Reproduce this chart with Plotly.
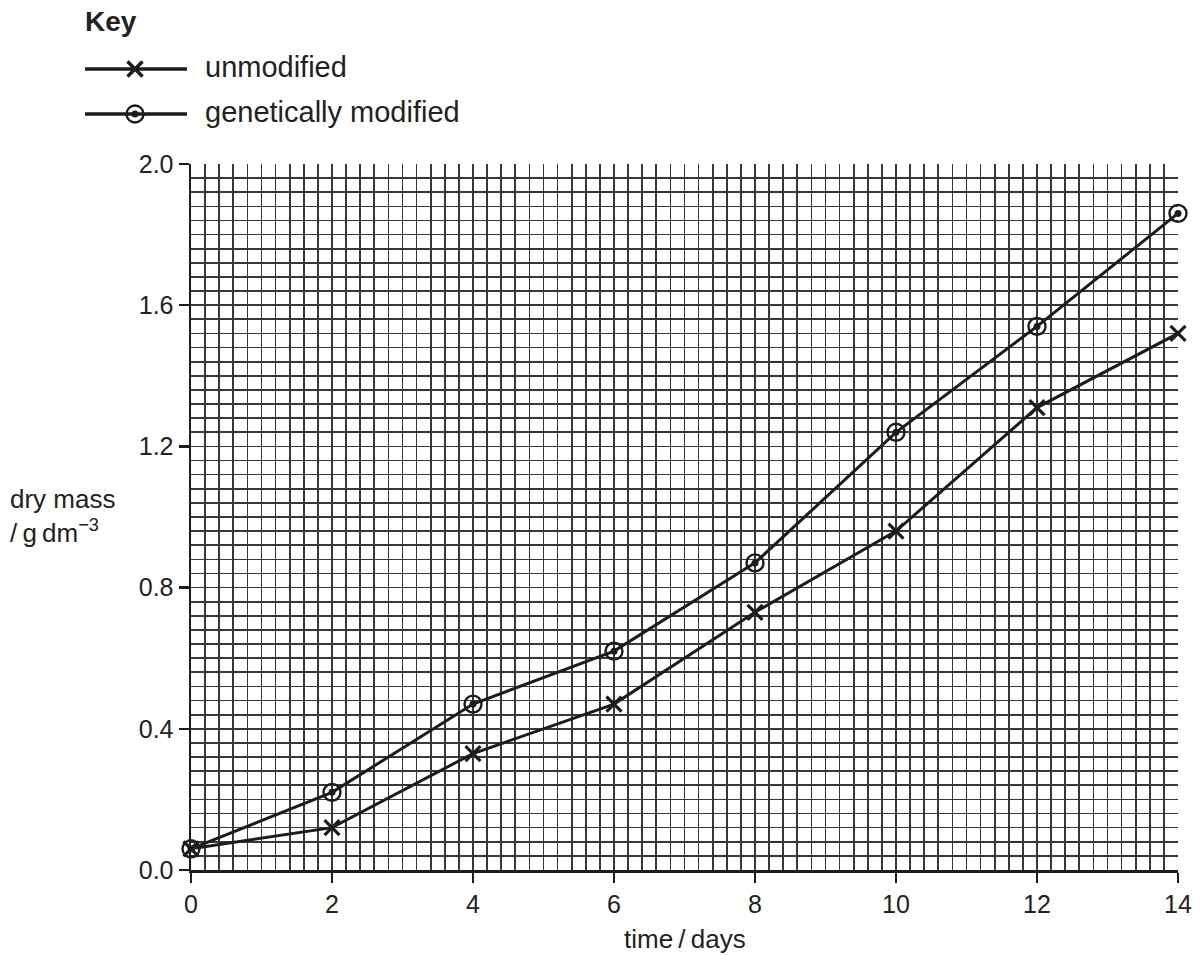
import plotly.graph_objects as go

W, H = 1202, 955

days = [0, 2, 4, 6, 8, 10, 12, 14]
unmodified = [0.06, 0.12, 0.33, 0.47, 0.73, 0.96, 1.31, 1.52]
gm = [0.06, 0.22, 0.47, 0.62, 0.87, 1.24, 1.54, 1.86]
x_ticks = [0, 2, 4, 6, 8, 10, 12, 14]
y_ticks = [0.0, 0.4, 0.8, 1.2, 1.6, 2.0]
y_ticklabels = ["0.0", "0.4", "0.8", "1.2", "1.6", "2.0"]

INK = "#1c1c1c"
GRID = "#383838"
FONT = "Liberation Sans, Arial, sans-serif"
TXT = "#222"

# plot area in pixels
L, R, T, B = 191, 1178, 164, 870

fig = go.Figure()

X_MARK = dict(symbol="x-thin", size=15, color=INK, line=dict(color=INK, width=3.2))
O_MARK = dict(symbol="circle-open", size=17, color=INK, line=dict(color=INK, width=2.4))
DOT = dict(symbol="circle", size=7, color=INK, line=dict(width=0))

fig.add_trace(go.Scatter(
    x=days, y=unmodified, mode="lines+markers", name="unmodified",
    line=dict(color=INK, width=3), marker=X_MARK, cliponaxis=False))
fig.add_trace(go.Scatter(
    x=days, y=gm, mode="lines+markers", name="genetically modified",
    line=dict(color=INK, width=3), marker=O_MARK, cliponaxis=False))
fig.add_trace(go.Scatter(
    x=days, y=gm, mode="markers", marker=DOT, hoverinfo="skip", cliponaxis=False))

# key drawn on a full-figure pixel subplot
KEY_LINE_X = [85, 187]
KEY_MARK_X = [135]
KEY_ROWS = [69, 114]
for yy in KEY_ROWS:
    fig.add_trace(go.Scatter(
        x=KEY_LINE_X, y=[yy, yy], xaxis="x2", yaxis="y2", mode="lines",
        line=dict(color=INK, width=3.5), hoverinfo="skip", cliponaxis=False))
fig.add_trace(go.Scatter(
    x=KEY_MARK_X, y=[KEY_ROWS[0]], xaxis="x2", yaxis="y2", mode="markers",
    marker=dict(symbol="x-thin", size=15, color=INK, line=dict(color=INK, width=3.5)),
    hoverinfo="skip", cliponaxis=False))
fig.add_trace(go.Scatter(
    x=KEY_MARK_X, y=[KEY_ROWS[1]], xaxis="x2", yaxis="y2", mode="markers",
    marker=dict(symbol="circle-open", size=17, color=INK, line=dict(color=INK, width=2.4)),
    hoverinfo="skip", cliponaxis=False))
fig.add_trace(go.Scatter(
    x=KEY_MARK_X, y=[KEY_ROWS[1]], xaxis="x2", yaxis="y2", mode="markers",
    marker=DOT, hoverinfo="skip", cliponaxis=False))

axis_common = dict(
    showgrid=True, gridcolor=GRID, gridwidth=1.7,
    zeroline=False, showline=True, linecolor=INK, linewidth=2.5,
    ticks="outside", ticklen=10, tickwidth=2.5, tickcolor=INK,
    tickfont=dict(family=FONT, size=25, color=TXT),
    automargin=False, fixedrange=True,
)

fig.update_layout(
    width=W, height=H,
    margin=dict(l=0, r=0, t=0, b=0),
    paper_bgcolor="white", plot_bgcolor="rgba(0,0,0,0)",
    showlegend=False,
    xaxis=dict(
        domain=[L / W, R / W], range=[0, 14], anchor="y",
        tickmode="array", tickvals=x_ticks, ticktext=[str(v) for v in x_ticks],
        minor=dict(dtick=0.2, tick0=0, showgrid=True, gridcolor=GRID, gridwidth=1.7, ticks=""),
        **axis_common),
    yaxis=dict(
        domain=[(H - B) / H, (H - T) / H], range=[0, 2.0], anchor="x",
        tickmode="array", tickvals=y_ticks, ticktext=y_ticklabels,
        minor=dict(dtick=0.04, tick0=0, showgrid=True, gridcolor=GRID, gridwidth=1.7, ticks=""),
        **axis_common),
    xaxis2=dict(domain=[0, 1], range=[0, W], visible=False, fixedrange=True, anchor="y2"),
    yaxis2=dict(domain=[0, 1], range=[H, 0], visible=False, fixedrange=True, anchor="x2"),
)

fig.add_annotation(x=83 / W, y=1 - 22 / H, xref="paper", yref="paper",
                   text="<b>Key</b>", showarrow=False, xanchor="left", yanchor="middle",
                   font=dict(family=FONT, size=28, color=TXT))
fig.add_annotation(x=203 / W, y=1 - 67 / H, xref="paper", yref="paper",
                   text="unmodified", showarrow=False, xanchor="left", yanchor="middle",
                   font=dict(family=FONT, size=29, color=TXT))
fig.add_annotation(x=203 / W, y=1 - 112 / H, xref="paper", yref="paper",
                   text="genetically modified", showarrow=False, xanchor="left", yanchor="middle",
                   font=dict(family=FONT, size=29, color=TXT))
fig.add_annotation(x=685 / W, y=1 - 939 / H, xref="paper", yref="paper",
                   text="time\u2009/\u2009days", showarrow=False, xanchor="center", yanchor="middle",
                   font=dict(family=FONT, size=26, color=TXT))
fig.add_annotation(x=8 / W, y=1 - 516 / H, xref="paper", yref="paper",
                   text="dry mass<br>/\u2009g\u2009dm<sup>−3</sup>", showarrow=False,
                   xanchor="left", yanchor="middle", align="left",
                   font=dict(family=FONT, size=26, color=TXT))

fig.write_html("out.html", config={"displayModeBar": False, "staticPlot": True},
               post_script="document.body.style.margin='0';document.body.style.overflow='hidden';")
